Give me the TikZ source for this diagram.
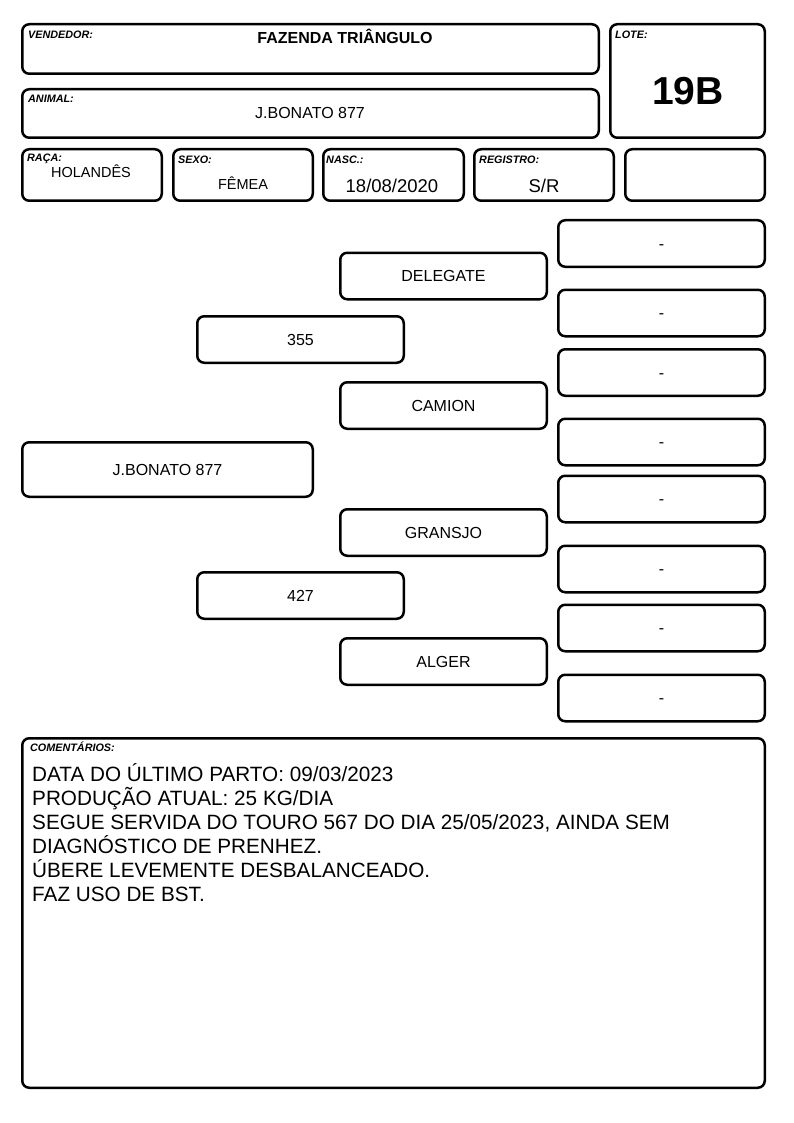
\documentclass[tikz,border=0pt]{standalone}
\usepackage{fontspec}
\setmainfont{Liberation Sans}
\usepackage{tikz}
\usetikzlibrary{positioning}

\begin{document}
\begin{tikzpicture}[x=1pt,y=-1pt]

  \tikzset{card/.style = {shape=rectangle,draw,line width=2.5pt,rounded corners=7pt,inner sep=0pt}}
  \tikzset{tag/.style = {anchor=base west,inner sep=0pt,font=\fontsize{10.8}{12}\selectfont\bfseries\itshape}}
  \tikzset{ped/.style = {card,minimum width=206.5pt,minimum height=46.5pt,text height=11.5pt,text depth=0pt,font=\fontsize{16}{19}\selectfont}}
  \tikzset{info/.style = {card,minimum width=139.5pt,minimum height=51.5pt}}
  \useasboundingbox (0,0) rectangle (794,1123);
  % header
  \node[card,minimum width=576.5pt,minimum height=49.5pt] (vend) at (310.5,49) {};
  \node[card,minimum width=154.5pt,minimum height=113.5pt] (lote) at (687.5,81) {};
  \node[card,minimum width=576.5pt,minimum height=48.5pt] (anim) at (310.5,113.5) {};
  \node[info] (raca) at (92,175) {};
  \node[info] (sexo) at (243,175) {};
  \node[info,minimum width=140.5pt] (nasc) at (393.5,175) {};
  \node[info] (reg) at (544,175) {};
  \node[info] (extra) at (695,175) {};
  \node[tag] (vendtag) at (28,38.6) {VENDEDOR:};
  \node[tag] (lotetag) at (615,38.6) {LOTE:};
  \node[tag] (animtag) at (28,102.6) {ANIMAL:};
  \node[tag] (racatag) at (27,161.6) {RAÇA:};
  \node[tag] (sexotag) at (178,163.6) {SEXO:};
  \node[tag] (nasctag) at (326,163.6) {NASC.:};
  \node[tag] (regtag) at (479,163.6) {REGISTRO:};
  \node[anchor=base,inner sep=0pt,font=\fontsize{16}{19}\selectfont\bfseries] (vendtxt) at (345,43.7) {FAZENDA TRIÂNGULO};
  \node[anchor=base,inner sep=0pt,font=\fontsize{39}{44}\selectfont\bfseries] (lotetxt) at (688,105) {19B};
  \node[anchor=base,inner sep=0pt,font=\fontsize{16}{19}\selectfont] (animtxt) at (310,118.7) {J.BONATO 877};
  \node[anchor=base,inner sep=0pt,font=\fontsize{14.5}{17}\selectfont] (racatxt) at (91,177.2) {HOLANDÊS};
  \node[anchor=base,inner sep=0pt,font=\fontsize{14.5}{17}\selectfont] (sexotxt) at (243,189.2) {FÊMEA};
  \node[anchor=base,inner sep=0pt,font=\fontsize{18.5}{22}\selectfont] (nasctxt) at (392,192.6) {18/08/2020};
  \node[anchor=base,inner sep=0pt,font=\fontsize{18.5}{22}\selectfont] (regtxt) at (544,192.6) {S/R};
  % pedigree
  \node[ped,minimum width=290.5pt,minimum height=54.5pt] (self) at (167.5,469.5) {J.BONATO 877};
  \node[ped] (pai) at (300.5,339.5) {355};
  \node[ped] (mae) at (300.5,595.5) {427};
  \node[ped] (avo1) at (443.5,276) {DELEGATE};
  \node[ped] (avo2) at (443.5,405.5) {CAMION};
  \node[ped] (avo3) at (443.5,532.5) {GRANSJO};
  \node[ped] (avo4) at (443.5,661.5) {ALGER};
  \node[ped] (bis1) at (661.5,243.5) {-};
  \node[ped] (bis2) at (661.5,313) {-};
  \node[ped] (bis3) at (661.5,372.5) {-};
  \node[ped] (bis4) at (661.5,442) {-};
  \node[ped] (bis5) at (661.5,499) {-};
  \node[ped] (bis6) at (661.5,569) {-};
  \node[ped] (bis7) at (661.5,628) {-};
  \node[ped] (bis8) at (661.5,698) {-};
  % comments
  \node[card,minimum width=742.5pt,minimum height=349.5pt] (obs) at (393.5,913) {};
  \node[tag] (obstag) at (30,751.6) {COMENTÁRIOS:};
  \node[anchor=base west,inner sep=0pt,align=left,font=\fontsize{20.7}{24}\selectfont] (obstxt) at (32,901)
    {DATA DO ÚLTIMO PARTO: 09/03/2023\\
     PRODUÇÃO ATUAL: 25 KG/DIA\\
     SEGUE SERVIDA DO TOURO 567 DO DIA 25/05/2023, AINDA SEM\\
     DIAGNÓSTICO DE PRENHEZ.\\
     ÚBERE LEVEMENTE DESBALANCEADO.\\
     FAZ USO DE BST.};
\end{tikzpicture}
\end{document}
